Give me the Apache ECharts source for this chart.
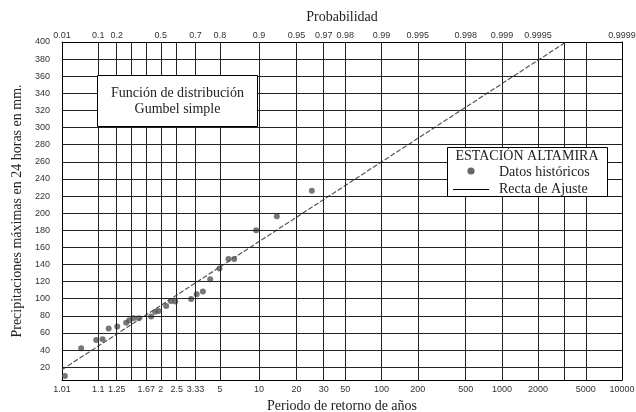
<!DOCTYPE html>
<html>
<head>
<meta charset="utf-8">
<script src="https://cdn.jsdelivr.net/npm/echarts@6/dist/echarts.min.js"></script>
<style>
  html, body { margin: 0; padding: 0; background: #fff; }
  #chart { width: 636px; height: 412px; }
</style>
</head>
<body>
<div id="chart"></div>
<script>
// Historical annual maxima (24 h rainfall, mm) and their return periods (years)
const periodos = [1.013, 1.043, 1.101, 1.137, 1.180, 1.254, 1.352, 1.391, 1.450, 1.535,
                  1.769, 1.859, 1.941, 2.152, 2.298, 2.446, 3.115, 3.401, 3.761, 4.244,
                  4.965, 5.797, 6.410, 9.488, 13.85, 26.63];
const precipitaciones = [9.7, 42.1, 51.8, 52.6, 65.3, 67.4, 72.0, 74.9, 77.2, 77.2,
                         79.1, 84.9, 85.7, 91.6, 97.4, 96.6, 99.8, 105.3, 108.4, 122.8,
                         135.2, 146.5, 146.5, 180.1, 196.5, 226.1];

// Fitted Gumbel line: end points (return period, mm)
const rectaPeriodos = [1.01, 3420];
const rectaPrecip = [17, 400];

// Bottom axis: return period labels and the non-exceedance probability where each sits
const etiquetasPeriodo = ['1.01', '1.1', '1.25', '1.67', '2', '2.5', '3.33', '5', '10', '20',
                          '30', '50', '100', '200', '500', '1000', '2000', '5000', '10000'];
const probPeriodo = [0.01, 0.1, 0.2, 0.4, 0.5, 0.6, 0.7, 0.8, 0.9, 0.95,
                     0.97, 0.98, 0.99, 0.995, 0.998, 0.999, 0.9995, 0.9998, 0.9999];

// Top axis: probability labels
const etiquetasProb = ['0.01', '0.1', '0.2', '0.5', '0.7', '0.8', '0.9', '0.95', '0.97',
                       '0.98', '0.99', '0.995', '0.998', '0.999', '0.9995', '0.9999'];

// Vertical grid lines (probabilities)
const probRejilla = [0.1, 0.2, 0.3, 0.4, 0.5, 0.6, 0.7, 0.8, 0.9, 0.95, 0.97, 0.98,
                     0.99, 0.995, 0.998, 0.999, 0.9995, 0.9997, 0.9998];

// Precipitation axis
const valoresPrecip = [20, 40, 60, 80, 100, 120, 140, 160, 180, 200,
                       220, 240, 260, 280, 300, 320, 340, 360, 380, 400];

// Gumbel reduced variate
function variableReducida(p) { return -Math.log(-Math.log(p)); }
function desdePeriodo(T) { return variableReducida(1 - 1 / T); }

const xMin = variableReducida(0.01);
const xMax = variableReducida(0.9999);

const posPeriodo = probPeriodo.map(variableReducida);
const posProb = etiquetasProb.map(s => variableReducida(parseFloat(s)));

function etiquetaEn(valores, etiquetas) {
  return function (v) {
    for (let i = 0; i < valores.length; i++) {
      if (Math.abs(valores[i] - v) < 1e-9) return etiquetas[i];
    }
    return '';
  };
}

const serif = '"Liberation Serif", "DejaVu Serif", serif';
const sans = '"Liberation Sans", Arial, sans-serif';
const tickLabel = { fontFamily: sans, fontSize: 9, color: '#333' };
const nameStyle = { fontFamily: serif, fontSize: 14, color: '#222' };
const borde = { show: true, onZero: false, lineStyle: { color: '#000', width: 1 } };

const datos = periodos.map((T, i) => [desdePeriodo(T), precipitaciones[i]]);
const recta = rectaPeriodos.map((T, i) => [desdePeriodo(T), rectaPrecip[i]]);

const lineaRejilla = { color: '#222', width: 1, type: 'solid' };

const chart = echarts.init(document.getElementById('chart'), null, { renderer: 'canvas' });

// Text boxes drawn above the grid
function caja(x, y, w, h) {
  return { type: 'rect', z: 100, shape: { x: x, y: y, width: w, height: h },
           style: { fill: '#fff', stroke: '#000', lineWidth: 1 } };
}
function texto(x, y, s, align) {
  return { type: 'text', z: 101, x: x, y: y,
           style: { text: s, font: '14px ' + serif, fill: '#222',
                    textAlign: align || 'center', textVerticalAlign: 'middle' } };
}

chart.setOption({
  animation: false,
  backgroundColor: '#fff',
  grid: { left: 62, right: 14, top: 42, bottom: 32, containLabel: false, outerBoundsMode: 'none' },
  xAxis: [
    {
      type: 'value', position: 'bottom', min: xMin, max: xMax,
      name: 'Periodo de retorno de años', nameLocation: 'middle', nameGap: 16,
      nameTextStyle: nameStyle,
      axisLine: borde,
      axisTick: { show: false },
      splitLine: { show: false },
      axisLabel: Object.assign({ customValues: posPeriodo, margin: 5,
        formatter: etiquetaEn(posPeriodo, etiquetasPeriodo), showMinLabel: true, showMaxLabel: true,
        hideOverlap: false }, tickLabel)
    },
    {
      type: 'value', position: 'top', min: xMin, max: xMax,
      name: 'Probabilidad', nameLocation: 'middle', nameGap: 18,
      nameTextStyle: nameStyle,
      axisLine: borde,
      axisTick: { show: false },
      splitLine: { show: false },
      axisLabel: Object.assign({ customValues: posProb, margin: 2,
        formatter: etiquetaEn(posProb, etiquetasProb), showMinLabel: true, showMaxLabel: true,
        hideOverlap: false }, tickLabel)
    }
  ],
  yAxis: [
    {
      type: 'value', position: 'left', min: 5, max: 400,
      name: 'Precipitaciones máximas en 24 horas en mm.', nameLocation: 'middle', nameGap: 30,
      nameTextStyle: nameStyle,
      axisLine: borde,
      axisTick: { show: false },
      splitLine: { show: false },
      axisLabel: Object.assign({ customValues: valoresPrecip, margin: 12,
        showMaxLabel: true }, tickLabel)
    },
    {
      type: 'value', position: 'right', min: 5, max: 400,
      axisLine: borde,
      axisTick: { show: false },
      axisLabel: { show: false },
      splitLine: { show: false }
    }
  ],
  series: [
    {
      name: 'rejilla', type: 'line', data: [], z: 1, silent: true,
      markLine: {
        silent: true, symbol: ['none', 'none'], label: { show: false },
        lineStyle: lineaRejilla, emphasis: { disabled: true },
        data: probRejilla.map(p => ({ xAxis: variableReducida(p) }))
          .concat(valoresPrecip.slice(0, -1).map(v => ({ yAxis: v })))
      }
    },
    {
      name: 'Recta de Ajuste', type: 'line', data: recta, z: 3,
      symbol: 'none', silent: true,
      lineStyle: { color: '#555', width: 1.2, type: [5, 2] }
    },
    {
      name: 'Datos históricos', type: 'scatter', data: datos, z: 4,
      symbol: 'circle', symbolSize: 6, silent: true,
      itemStyle: { color: '#555' }
    }
  ],
  graphic: [
    caja(97.5, 75.5, 160, 51),
    texto(177.5, 93, 'Función de distribución'),
    texto(177.5, 109, 'Gumbel simple'),
    caja(447.5, 147.5, 160, 49),
    texto(527, 156, 'ESTACIÓN ALTAMIRA'),
    { type: 'circle', z: 101, shape: { cx: 471, cy: 171, r: 3.6 }, style: { fill: '#666' } },
    texto(499, 172, 'Datos históricos', 'left'),
    { type: 'line', z: 101, shape: { x1: 453, y1: 189.5, x2: 489, y2: 189.5 },
      style: { stroke: '#000', lineWidth: 1 } },
    texto(499, 189.5, 'Recta de Ajuste', 'left')
  ]
});
</script>
</body>
</html>
